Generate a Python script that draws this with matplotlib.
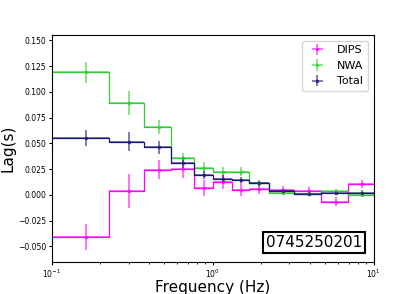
import numpy as np
import matplotlib
matplotlib.use("Agg")
import matplotlib.pyplot as plt

# frequency bin edges (Hz)
edges = [0.1, 0.226, 0.374, 0.55, 0.76, 1.01, 1.32, 1.67, 2.23, 3.22, 4.74, 6.92, 10.0]

dips_lag = [-0.041, 0.0037, 0.0245, 0.0255, 0.0066, 0.0125, 0.005, 0.0053, 0.0044, 0.0037, -0.0066, 0.0105]
dips_err = [0.013, 0.0165, 0.009, 0.009, 0.008, 0.007, 0.006, 0.005, 0.004, 0.004, 0.004, 0.004]

nwa_lag = [0.119, 0.0893, 0.066, 0.0355, 0.0265, 0.0226, 0.0226, 0.011, 0.002, 0.0012, 0.0034, -0.0005]
nwa_err = [0.0104, 0.012, 0.007, 0.005, 0.005, 0.004, 0.004, 0.003, 0.002, 0.002, 0.002, 0.002]

total_lag = [0.055, 0.0517, 0.046, 0.0313, 0.019, 0.0158, 0.014, 0.011, 0.0034, 0.0012, 0.0015, 0.0022]
total_err = [0.0077, 0.009, 0.006, 0.005, 0.004, 0.003, 0.003, 0.002, 0.002, 0.002, 0.002, 0.002]

series = [
    ("DIPS", dips_lag, dips_err, "magenta"),
    ("NWA", nwa_lag, nwa_err, "limegreen"),
    ("Total", total_lag, total_err, "midnightblue"),
]

edges = np.array(edges)
centers = 0.5 * (edges[:-1] + edges[1:])
xlo = centers - edges[:-1]
xhi = edges[1:] - centers

fig, ax = plt.subplots(figsize=(4.15, 2.94), dpi=100)

for name, lag, err, color in series:
    lag = np.array(lag)
    ax.errorbar(centers, lag, yerr=err, xerr=[xlo, xhi], fmt="s", ms=2,
                color=color, alpha=0.6, lw=1.3, label=name)
    ax.step(edges, np.append(lag, lag[-1]), where="post", color=color, lw=0.9)

ax.set_xscale("log")
ax.set_xlim(0.1, 10)
ax.set_ylim(-0.065, 0.155)
ax.tick_params(labelsize=5.5, length=2.5, pad=1.5)
ax.tick_params(which="minor", length=1.5)
ax.set_xlabel("Frequency (Hz)", fontsize=11, labelpad=0)
ax.set_ylabel("Lag(s)", fontsize=11, labelpad=2)
ax.legend(loc="upper right", fontsize=8)
ax.text(0.965, 0.05, "0745250201", transform=ax.transAxes, ha="right", va="bottom",
        fontsize=11, bbox=dict(facecolor="white", edgecolor="black", boxstyle="square,pad=0.2", lw=1.5))

fig.savefig("out.png", dpi=100)
